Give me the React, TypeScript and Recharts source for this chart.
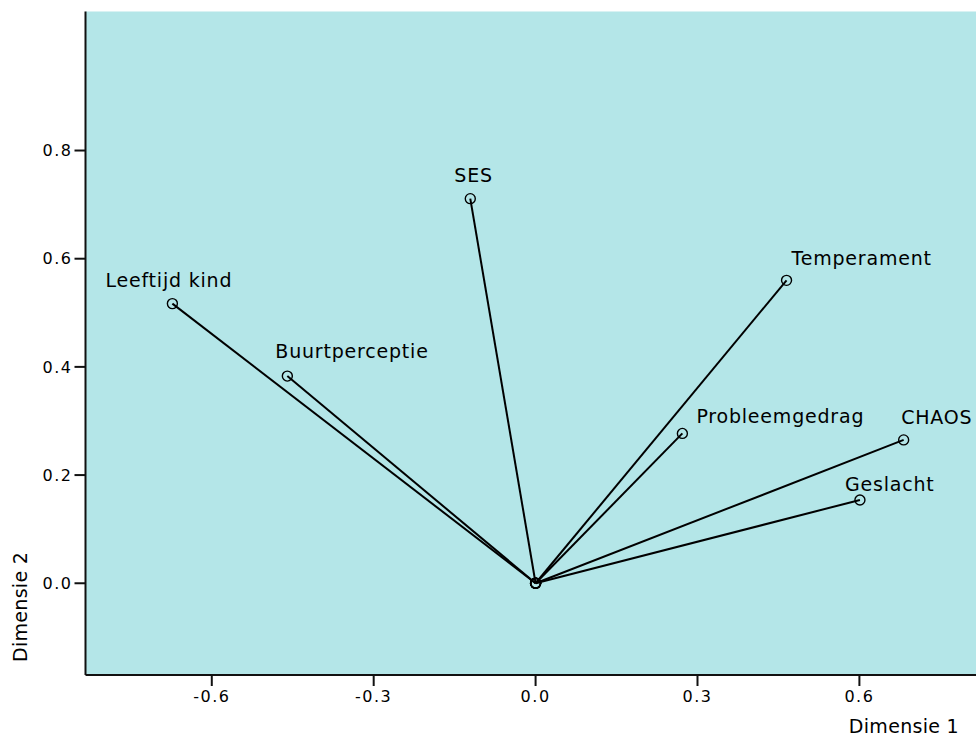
import React from 'react';
import { ScatterChart, Scatter, XAxis, YAxis, CartesianGrid } from 'recharts';

const VARIABLES = ['Leeftijd kind', 'Buurtperceptie', 'SES', 'Temperament', 'Probleemgedrag', 'CHAOS', 'Geslacht'];
const DIM1 = [-0.673, -0.46, -0.121, 0.465, 0.272, 0.682, 0.601];
const DIM2 = [0.517, 0.383, 0.711, 0.56, 0.277, 0.265, 0.154];
const X_TICKS = [-0.6, -0.3, 0, 0.3, 0.6];
const Y_TICKS = [0, 0.2, 0.4, 0.6, 0.8];

// label placement relative to the point (text start, baseline)
const LABEL_OFFSETS: Record<string, [number, number]> = {
  'Leeftijd kind': [-67, -17],
  Buurtperceptie: [-12, -18],
  SES: [-16, -17],
  Temperament: [5, -15],
  Probleemgedrag: [14, -10.5],
  CHAOS: [-2.5, -16],
  Geslacht: [-15, -8.5],
};

const FONT = '"DejaVu Sans", Verdana, sans-serif';
const BG = '#b4e6e8';

const vectors = VARIABLES.map((name, i) => [
  { x: 0, y: 0 },
  { x: DIM1[i], y: DIM2[i], name },
]);

const PointShape = (props: any) => {
  const { cx, cy, payload } = props;
  if (cx == null || cy == null) return null;
  const name = payload && payload.name;
  const off = name ? LABEL_OFFSETS[name] || [0, -12] : null;
  return (
    <g>
      <circle cx={cx} cy={cy} r={5} fill="none" stroke="#000" strokeWidth={1.4} />
      {name && off && (
        <text
          x={cx + off[0]}
          y={cy + off[1]}
          fontFamily={FONT}
          fontSize={19}
          letterSpacing={0.8}
          fill="#000"
        >
          {name}
        </text>
      )}
    </g>
  );
};

const tickStyle = { fill: '#000', fontSize: 16, fontFamily: FONT, letterSpacing: 1.5 };

export default function App() {
  return (
    <div style={{ position: 'fixed', left: 0, top: 0, width: 976, height: 736, overflow: 'hidden', background: '#fff' }}>
      <ScatterChart width={990} height={736} margin={{ top: 11.5, right: 0, bottom: 0, left: 0.5 }}>
        <CartesianGrid horizontal={false} vertical={false} fill={BG} />
        <XAxis
          type="number"
          dataKey="x"
          domain={[-0.834, 0.842]}
          allowDataOverflow
          ticks={X_TICKS}
          tickFormatter={(v: number) => v.toFixed(1)}
          height={61}
          tickSize={11}
          tickMargin={5}
          tick={tickStyle}
          axisLine={{ stroke: '#111', strokeWidth: 2 }}
          tickLine={{ stroke: '#111', strokeWidth: 2 }}
          label={{
            content: () => (
              <text x={959} y={733} textAnchor="end" fontFamily={FONT} fontSize={19} letterSpacing={0.3} fill="#000">
                Dimensie 1
              </text>
            ),
          }}
        />
        <XAxis
          xAxisId="top"
          orientation="top"
          type="number"
          dataKey="x"
          domain={[-0.834, 0.842]}
          allowDataOverflow
          height={0}
          tick={false}
          tickLine={false}
          axisLine={{ stroke: '#111', strokeWidth: 2 }}
        />
        <YAxis
          type="number"
          dataKey="y"
          domain={[-0.1696, 1.057]}
          allowDataOverflow
          ticks={Y_TICKS}
          tickFormatter={(v: number) => v.toFixed(1)}
          width={85}
          tickSize={11}
          tickMargin={2}
          tick={tickStyle}
          axisLine={{ stroke: '#111', strokeWidth: 2 }}
          tickLine={{ stroke: '#111', strokeWidth: 2 }}
          label={{
            content: () => (
              <text
                x={27}
                y={662}
                transform="rotate(-90, 27, 662)"
                fontFamily={FONT}
                fontSize={19}
                letterSpacing={0.3}
                fill="#000"
              >
                Dimensie 2
              </text>
            ),
          }}
        />
        {vectors.map((data, i) => (
          <Scatter
            key={VARIABLES[i]}
            data={data}
            line={{ stroke: '#000', strokeWidth: 2 }}
            shape={<PointShape />}
            isAnimationActive={false}
          />
        ))}
      </ScatterChart>
    </div>
  );
}
